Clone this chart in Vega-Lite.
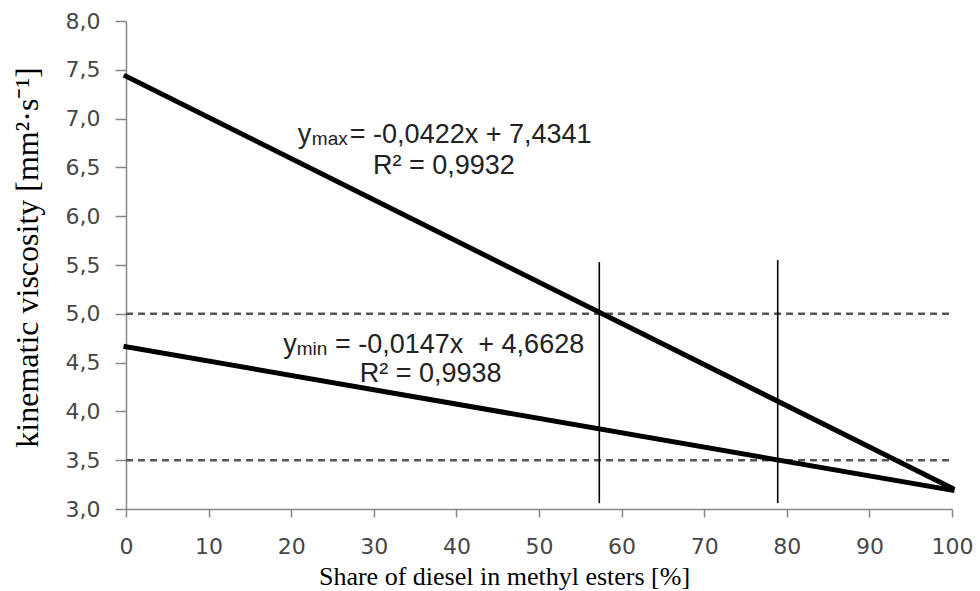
{
  "$schema": "https://vega.github.io/schema/vega-lite/v6.json",
  "width": 826,
  "height": 488,
  "autosize": {"type": "none"},
  "padding": {"left": 126, "top": 21, "right": 28, "bottom": 82},
  "background": "white",
  "config": {"view": {"stroke": null}},
  "datasets": {
    "fits": [
      {"series": "max", "x": 0, "y": 7.4341},
      {"series": "max", "x": 100, "y": 3.2141},
      {"series": "min", "x": 0, "y": 4.6628},
      {"series": "min", "x": 100, "y": 3.1928}
    ],
    "limits": [
      {"x": 0, "x2": 100, "y": 5.0},
      {"x": 0, "x2": 100, "y": 3.5}
    ],
    "verticals": [
      {"x": 57.3, "y": 3.06, "y2": 5.53},
      {"x": 78.9, "y": 3.06, "y2": 5.55}
    ],
    "labels": [
      {"kind": "main", "x": 20.8, "y": 6.753, "label": "y"},
      {"kind": "sub", "x": 22.5, "y": 6.73, "label": "max"},
      {"kind": "main", "x": 27.1, "y": 6.753, "label": "= -0,0422x + 7,4341"},
      {"kind": "main", "x": 29.9, "y": 6.432, "label": "R² = 0,9932"},
      {"kind": "main", "x": 19.05, "y": 4.595, "label": "y"},
      {"kind": "sub", "x": 20.67, "y": 4.578, "label": "min"},
      {"kind": "main", "x": 25.3, "y": 4.595, "label": "= -0,0147x\u00a0 + 4,6628"},
      {"kind": "main", "x": 28.3, "y": 4.304, "label": "R² = 0,9938"}
    ]
  },
  "encoding": {
    "x": {
      "field": "x", "type": "quantitative",
      "scale": {"domain": [0, 100], "nice": false, "zero": false},
      "axis": {
        "title": "Share of diesel in methyl esters [%]",
        "values": [0, 10, 20, 30, 40, 50, 60, 70, 80, 90, 100],
        "grid": false,
        "domainColor": "#868686", "domainWidth": 1.5,
        "tickColor": "#868686", "tickSize": 8, "tickWidth": 1.5,
        "labelFont": "DejaVu Sans", "labelFontSize": 22, "labelColor": "#474747",
        "labelPadding": 19, "labelFlush": false, "labelOverlap": false,
        "titleFont": "Liberation Serif", "titleFontSize": 26, "titleFontWeight": "normal",
        "titleColor": "#000000", "titleX": 378, "titleY": 75,
        "titleBaseline": "alphabetic", "titleAlign": "center"
      }
    },
    "y": {
      "field": "y", "type": "quantitative",
      "scale": {"domain": [3, 8], "nice": false, "zero": false},
      "axis": {
        "title": "kinematic viscosity [mm²·s⁻¹]",
        "values": [3, 3.5, 4, 4.5, 5, 5.5, 6, 6.5, 7, 7.5, 8],
        "labelExpr": "replace(format(datum.value, '.1f'), '.', ',')",
        "grid": false,
        "domainColor": "#868686", "domainWidth": 1.5,
        "tickColor": "#868686", "tickSize": 11, "tickWidth": 1.5,
        "labelFont": "DejaVu Sans", "labelFontSize": 22, "labelColor": "#474747",
        "labelPadding": 15, "labelFlush": false, "labelOverlap": false,
        "titleFont": "Liberation Serif", "titleFontSize": 32, "titleFontWeight": "normal",
        "titleColor": "#000000", "titleX": -99, "titleY": 236,
        "titleBaseline": "middle", "titleAlign": "center", "titleAngle": -90
      }
    }
  },
  "layer": [
    {
      "data": {"name": "limits"},
      "mark": {"type": "rule", "color": "#555555", "strokeWidth": 2.5, "strokeDash": [7, 5]},
      "encoding": {
        "x2": {"field": "x2"}
      }
    },
    {
      "data": {"name": "verticals"},
      "mark": {"type": "rule", "color": "#000000", "strokeWidth": 1.6},
      "encoding": {
        "y2": {"field": "y2"}
      }
    },
    {
      "data": {"name": "fits"},
      "mark": {"type": "line", "color": "#000000", "strokeWidth": 5, "strokeCap": "square"},
      "encoding": {
        "detail": {"field": "series", "type": "nominal"}
      }
    },
    {
      "data": {"name": "labels"},
      "transform": [{"filter": "datum.kind === 'main'"}],
      "mark": {"type": "text", "align": "left", "baseline": "alphabetic", "font": "Liberation Sans", "fontSize": 27, "color": "#222222"},
      "encoding": {
        "text": {"field": "label"}
      }
    },
    {
      "data": {"name": "labels"},
      "transform": [{"filter": "datum.kind === 'sub'"}],
      "mark": {"type": "text", "align": "left", "baseline": "alphabetic", "font": "Liberation Sans", "fontSize": 19, "color": "#222222"},
      "encoding": {
        "text": {"field": "label"}
      }
    }
  ]
}
